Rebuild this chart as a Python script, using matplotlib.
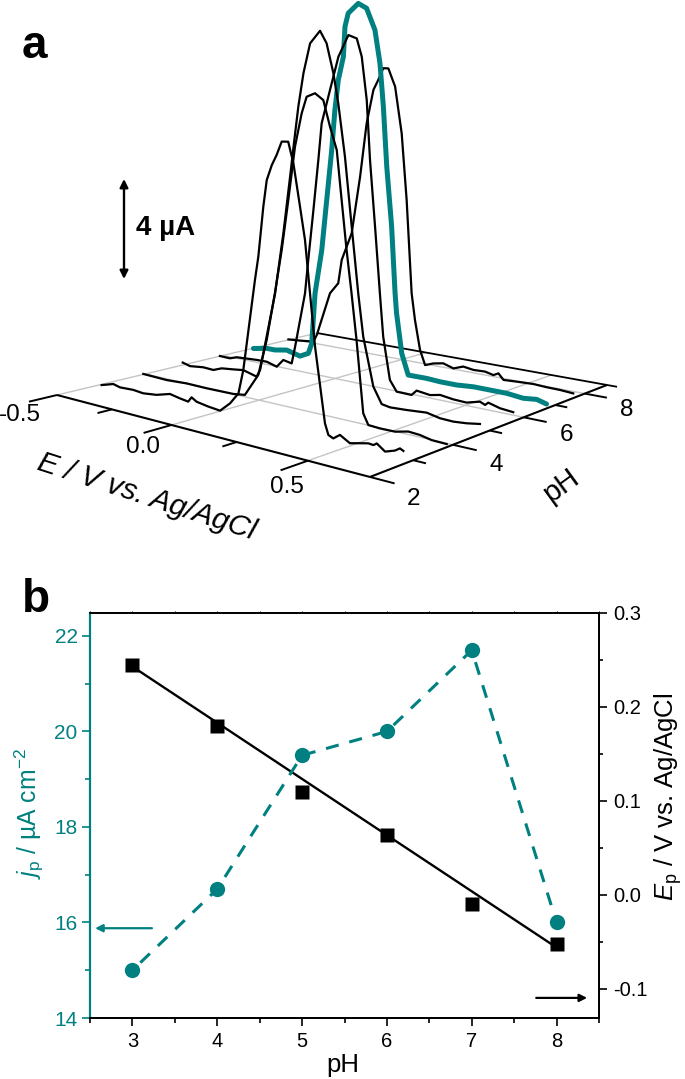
import numpy as np
from matplotlib import pyplot as plt
from matplotlib.ticker import FixedLocator

plt.rcParams['font.family'] = ['Liberation Sans', 'DejaVu Sans']
plt.rcParams['mathtext.fontset'] = 'custom'
plt.rcParams['mathtext.rm'] = 'Liberation Sans'
plt.rcParams['mathtext.it'] = 'Liberation Sans:italic'
plt.rcParams['axes.unicode_minus'] = False

TEAL = '#008080'
GREY = '#c4c4c4'

# panel a: voltammograms, E in V and current in uA
E3 = [-0.505,-0.45,-0.419,-0.358,-0.313,-0.254,-0.196,-0.153,-0.118,-0.104,-0.083,-0.035,0.013,0.053,0.086,0.105,0.15,0.163,0.182,0.195,0.214,0.232,0.251,0.275,0.294,0.318,0.336,0.354,0.372,0.407,0.419,0.436,0.459,0.493,0.527,0.555,0.572,0.583,0.61,0.642,0.658,0.669]
I3 = [-0.05,0.11,0.04,0.07,0.03,0.1,0.27,0.19,0.14,0.35,0.22,0.14,0.09,0.49,0.98,1.98,5.77,6.76,8.85,9.97,10.63,11.09,11.69,11.75,10.92,9.22,7.91,5.78,3.65,0.62,0.18,0.09,0.3,0.06,0.16,0.24,0.22,0.32,0.07,0.21,0.35,0.28]
E4 = [-0.51,-0.4,-0.309,-0.221,-0.106,-0.058,-0.003,0.031,0.064,0.091,0.117,0.143,0.169,0.188,0.22,0.251,0.276,0.301,0.319,0.337,0.355,0.373,0.397,0.415,0.456,0.508,0.553,0.592,0.631,0.68]
I4 = [-0.02,-0.05,0.0,-0.01,0.01,0.08,1.02,2.52,4.51,6.34,8.44,10.68,12.11,12.83,13.05,12.85,11.83,10.94,8.94,6.95,5.23,3.37,0.44,0.01,-0.02,-0.01,0.12,0.09,-0.01,-0.03]
E5 = [-0.513,-0.478,-0.416,-0.369,-0.331,-0.279,-0.234,-0.176,-0.161,-0.097,-0.062,-0.034,-0.018,0.0,0.021,0.048,0.088,0.114,0.141,0.16,0.186,0.212,0.237,0.256,0.294,0.325,0.356,0.416,0.487,0.533,0.579,0.624,0.668]
I5 = [0.05,-0.03,0.04,0.02,0.16,0.22,0.28,0.13,0.43,3.69,6.22,8.59,9.99,11.52,12.93,14.21,14.81,14.36,13.19,12.01,9.89,7.1,4.43,2.71,0.76,0.12,0.06,0.1,0.17,0.06,0.04,0.09,0.18]
E6 = [-0.515,-0.467,-0.435,-0.342,-0.296,-0.251,-0.222,-0.185,-0.17,-0.127,-0.113,-0.091,-0.07,-0.056,-0.021,0.014,0.055,0.089,0.109,0.129,0.142,0.162,0.181,0.194,0.22,0.246,0.303,0.322,0.372,0.409,0.457,0.504,0.551,0.569,0.58,0.62,0.665]
I6 = [-0.05,-0.06,0.04,0.1,0.11,-0.01,0.32,0.25,0.96,3.22,4.61,6.69,8.78,10.3,11.73,13.16,14.13,14.06,13.36,11.63,9.21,6.53,3.85,2.11,0.4,-0.02,-0.03,0.19,0.12,0.21,0.14,0.12,0.27,0.18,0.3,0.17,0.12]
E7 = [-0.524,-0.46,-0.421,-0.366,-0.304,-0.266,-0.251,-0.236,-0.206,-0.184,-0.162,-0.148,-0.133,-0.111,-0.104,-0.09,-0.047,-0.012,0.023,0.044,0.058,0.072,0.092,0.106,0.112,0.133,0.159,0.232,0.284,0.347,0.41,0.471,0.531,0.59,0.636,0.67]
I7 = [-0.1,0.01,0.01,0.1,-0.04,0.14,0.57,2.64,4.46,6.54,8.62,10.28,11.54,12.53,13.77,14.34,14.82,14.69,13.87,12.55,10.81,8.38,5.97,3.28,2.48,0.88,0.05,0.06,0.03,0.03,0.09,0.09,0.09,0.02,0.08,-0.03]
E8 = [-0.516,-0.46,-0.396,-0.38,-0.318,-0.28,-0.264,-0.219,-0.181,-0.152,-0.122,-0.101,-0.079,-0.057,-0.028,0.0,0.021,0.042,0.056,0.077,0.098,0.132,0.172,0.213,0.252,0.292,0.337,0.369,0.388,0.407,0.456,0.518,0.566,0.613,0.66]
I8 = [-0.04,0.0,0.06,0.35,2.16,2.63,3.61,4.77,7.15,9.37,10.79,11.23,11.75,11.78,11.09,9.23,6.55,2.78,1.71,0.53,-0.05,0.08,0.16,0.03,0.18,0.12,0.14,0.06,0.17,-0.06,-0.03,0.0,-0.03,-0.04,-0.08]

# panel b
ph = [3, 4, 5, 6, 7, 8]
jp = [15.0, 16.7, 19.5, 20.0, 21.7, 16.0]
ep = [0.245, 0.18, 0.11, 0.064, -0.01, -0.052]
fit_ph = [3, 8]
fit_ep = [0.243, -0.056]

E_MIN, E_MAX = -0.5, 0.7
PH_MIN, PH_MAX = 2, 8.8
PX_PER_UA = 24.5


'''
Origin style 3D box: takes E, pH and current and gives the position on the
page. The floor is a perspective square, the current only goes straight up.
'''
def project(e, p, i=0):
    u = (np.asarray(e, dtype=float) - E_MIN) / (E_MAX - E_MIN)
    v = (np.asarray(p, dtype=float) - PH_MIN) / (PH_MAX - PH_MIN)
    w = -0.1924*u + 0.2366*v + 1
    x = (241.8*u + 335*v + 57) / w
    y = (-9.8*u + 16.8*v + 395) / w
    return x, y - np.asarray(i, dtype=float)*PX_PER_UA


def floor_line(ax, e, p, **kw):
    x, y = project(e, p)
    ax.plot(x, y, solid_capstyle='butt', **kw)


def make_panel_a(ax):
    # grey grid on the floor
    for e in [E_MIN, 0.0, 0.5]:
        floor_line(ax, [e, e], [PH_MIN, PH_MAX], color=GREY, lw=1.0, zorder=1)
    for p in [4, 6, 8]:
        floor_line(ax, [E_MIN, E_MAX], [p, p], color=GREY, lw=1.0, zorder=1)
    # box edges
    floor_line(ax, [E_MIN, E_MAX], [PH_MIN, PH_MIN], color='k', lw=1.5, zorder=2)
    floor_line(ax, [E_MAX, E_MAX], [PH_MIN, PH_MAX], color='k', lw=1.5, zorder=2)
    floor_line(ax, [E_MIN, E_MAX + 0.035], [PH_MAX, PH_MAX], color='k', lw=1.3, zorder=2)
    # ticks
    for e, size in [(-0.5, 0.58), (-0.25, 0.3), (0.0, 0.58), (0.25, 0.3), (0.5, 0.58)]:
        floor_line(ax, [e, e], [PH_MIN, PH_MIN - size], color='k', lw=1.4, zorder=2)
    for p, size in [(2, 0.075), (3, 0.04), (4, 0.075), (5, 0.04), (6, 0.075), (7, 0.04), (8, 0.075)]:
        floor_line(ax, [E_MAX, E_MAX + size], [p, p], color='k', lw=1.4, zorder=2)
    # back curves first
    curves = [(8, E8, I8), (7, E7, I7), (6, E6, I6), (5, E5, I5), (4, E4, I4), (3, E3, I3)]
    for p, es, cs in curves:
        x, y = project(es, np.full(len(es), p), cs)
        if p == 7:
            ax.plot(x, y, color=TEAL, lw=3.6, solid_joinstyle='round', solid_capstyle='round', zorder=3)
        else:
            ax.plot(x, y, color='k', lw=1.6, solid_joinstyle='round', zorder=3)
    # tick labels
    for txt, x, y in [('-0.5', 20, 415), ('0.0', 143, 447), ('0.5', 287, 487)]:
        ax.text(x, y, txt, fontsize=17.5, ha='center', va='center')
    for txt, x, y in [('2', 414, 499), ('4', 496, 465), ('6', 567, 435), ('8', 627, 410)]:
        ax.text(x, y, txt, fontsize=17.5, ha='center', va='center')
    ax.text(147, 497, 'E / V vs. Ag/AgCl', fontsize=21.5, style='italic', rotation=-18,
            rotation_mode='anchor', ha='center', va='center')
    ax.text(561, 486, 'pH', fontsize=21, rotation=36, rotation_mode='anchor', ha='center', va='center')
    # current scale bar
    ax.annotate('', xy=(124, 179), xytext=(124, 179 + 4*PX_PER_UA + 2),
                arrowprops=dict(arrowstyle='<|-|>', color='k', lw=1.7, mutation_scale=12,
                                shrinkA=0, shrinkB=0))
    ax.text(136, 228, '4 µA', fontsize=20, fontweight='bold', ha='left', va='center')
    ax.text(22, 46, 'a', fontsize=33, fontweight='bold', ha='left', va='center')
    ax.text(22, 600, 'b', fontsize=33, fontweight='bold', ha='left', va='center')


def make_panel_b(fig):
    left = fig.add_axes([90/685, (1079 - 1018)/1079, 509/685, 405/1079], facecolor='none')
    right = left.twinx()
    left.set_xlim(2.5, 8.5)
    left.set_ylim(14, 22.48)
    right.set_ylim(-0.131, 0.3)

    right.plot(fit_ph, fit_ep, color='k', lw=1.7, zorder=2)
    right.plot(ph, ep, 's', color='k', ms=10, mec='none', zorder=3)
    left.plot(ph, jp, color=TEAL, lw=2.2, ls=(4.3, (4.3, 3.6)), zorder=2)
    left.plot(ph, jp, 'o', color=TEAL, ms=11, mec='none', zorder=3)
    left.set_zorder(right.get_zorder() + 1)

    left.set_xticks(ph)
    left.xaxis.set_minor_locator(FixedLocator(np.arange(2.5, 8.6, 1)))
    left.set_yticks([14, 16, 18, 20, 22])
    left.yaxis.set_minor_locator(FixedLocator([15, 17, 19, 21]))
    right.set_yticks([-0.1, 0.0, 0.1, 0.2, 0.3])
    right.set_yticklabels(['-0.1', '0.0', '0.1', '0.2', '0.3'])
    right.yaxis.set_minor_locator(FixedLocator([-0.05, 0.05, 0.15, 0.25]))

    for ax in (left, right):
        for s in ax.spines.values():
            s.set_linewidth(1.3)
    left.spines['left'].set_color(TEAL)
    left.spines['left'].set_linewidth(1.6)
    right.spines['left'].set_visible(False)

    left.tick_params(axis='x', which='major', length=6, width=1.2, labelsize=14.5, pad=4, top=True)
    left.tick_params(axis='x', which='minor', length=3.5, width=1.2, top=True)
    left.tick_params(axis='y', which='major', length=6, width=1.2, labelsize=15, pad=3,
                     color=TEAL, labelcolor=TEAL)
    left.tick_params(axis='y', which='minor', length=3.5, width=1.2, color=TEAL)
    right.tick_params(axis='y', which='major', length=6, width=1.2, labelsize=14.5, pad=4)
    right.tick_params(axis='y', which='minor', length=3, width=1.2)

    # the top ticks are only small nubs
    for t in left.xaxis.get_major_ticks() + left.xaxis.get_minor_ticks():
        t.tick2line.set_markersize(1.5)
        t.tick2line.set_markeredgewidth(0.7)

    fig.text(343/685, 1 - 1065/1079, 'pH', fontsize=18.5, ha='center', va='center')
    fig.text(29/685, 1 - 814/1079, r'$\mathit{j}_{\mathrm{p}}$ / µA cm$^{-2}$', fontsize=17.8, color=TEAL,
             rotation=90, ha='center', va='center')
    fig.text(668/685, 1 - 797/1079, r'$\mathit{E}_{\mathrm{p}}$ / V vs. Ag/AgCl', fontsize=18.5,
             rotation=90, ha='center', va='center')

    left.annotate('', xy=(2.56, 15.88), xytext=(3.23, 15.88),
                  arrowprops=dict(arrowstyle='-|>', color=TEAL, lw=1.6, mutation_scale=11,
                                  shrinkA=0, shrinkB=0))
    right.annotate('', xy=(8.36, -0.1096), xytext=(7.76, -0.1096),
                   arrowprops=dict(arrowstyle='-|>', color='k', lw=1.6, mutation_scale=11,
                                   shrinkA=0, shrinkB=0))


def main():
    fig = plt.figure(figsize=(6.85, 10.79), dpi=100)
    page = fig.add_axes([0, 0, 1, 1])
    page.set_xlim(0, 685)
    page.set_ylim(1079, 0)
    page.axis('off')
    make_panel_a(page)
    make_panel_b(fig)
    fig.savefig('out.png')


main()
